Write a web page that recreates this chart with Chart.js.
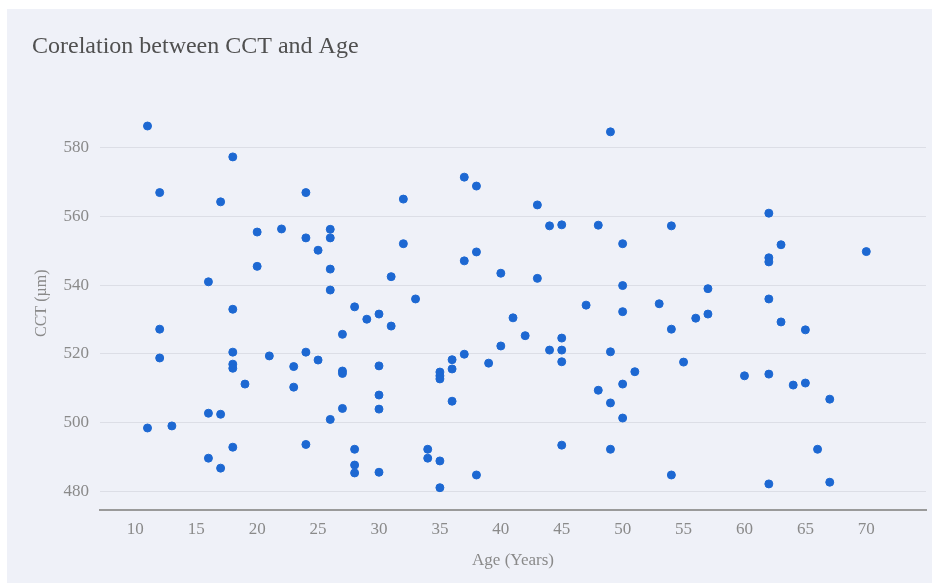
<!DOCTYPE html>
<html>
<head>
<meta charset="utf-8">
<script src="https://cdn.jsdelivr.net/npm/chart.js@4.4.1/dist/chart.umd.min.js"></script>
<style>
  html, body { margin: 0; padding: 0; background: #ffffff; }
  #card {
    position: absolute; left: 7px; top: 9px;
    width: 925px; height: 574px;
    background: #eff1f8;
  }
</style>
</head>
<body>
<div id="card"><canvas id="scatter-chart" width="925" height="574"></canvas></div>
<script>
  'use strict';
  // Age (years) and CCT (µm) per patient
  var ages = [
    11, 11, 12, 12, 12, 13, 16, 16, 16, 17, 17, 17,
    18, 18, 18, 18, 18, 18, 19, 20, 20, 21, 22, 23, 23,
    24, 24, 24, 24, 25, 25, 26, 26, 26, 26, 26,
    27, 27, 27, 27, 28, 28, 28, 28, 29, 30, 30, 30, 30, 30,
    31, 31, 32, 32, 33, 34, 34, 35, 35, 35, 35, 35,
    36, 36, 36, 37, 37, 37, 38, 38, 38, 39, 40, 40, 41, 42,
    43, 43, 44, 44, 45, 45, 45, 45, 45, 47, 48, 48,
    49, 49, 49, 49, 50, 50, 50, 50, 50, 51, 53, 54, 54, 54,
    55, 56, 57, 57, 60, 62, 62, 62, 62, 62, 62, 63, 63,
    64, 65, 65, 66, 67, 67, 70
  ];
  var cct = [
    586.4, 498.4, 567, 527.2, 518.8, 499, 541, 502.7, 489.6, 564.3, 502.4, 486.7,
    577.4, 533, 520.5, 517, 515.8, 492.8, 511.2, 555.5, 545.5, 519.4, 556.4, 516.3, 510.3,
    567, 553.8, 520.5, 493.6, 550.2, 518.2, 556.3, 553.8, 544.7, 538.6, 500.9,
    525.7, 515, 514.3, 504.1, 533.7, 492.2, 487.6, 485.3, 530.1, 531.6, 516.5, 508, 503.9, 485.5,
    542.5, 528.1, 565.1, 552.1, 536, 492.2, 489.6, 514.7, 513.6, 512.7, 488.8, 481,
    518.3, 515.6, 506.2, 571.5, 547.1, 519.9, 568.9, 549.7, 484.7, 517.3, 543.5, 522.3, 530.5, 525.3,
    563.4, 542, 557.3, 521.1, 557.6, 524.6, 521.1, 517.7, 493.4, 534.2, 557.5, 509.4,
    584.7, 520.6, 505.7, 492.2, 552.1, 539.9, 532.3, 511.2, 501.3, 514.8, 534.6, 557.3, 527.2, 484.7,
    517.6, 530.4, 539, 531.6, 513.6, 561, 548, 546.8, 536, 514.1, 482.1, 551.8, 529.3,
    510.9, 527, 511.5, 492.2, 506.8, 482.6, 549.8
  ];
  var xTicks = [10, 15, 20, 25, 30, 35, 40, 45, 50, 55, 60, 65, 70];
  var yTicks = [480, 500, 520, 540, 560, 580];

  var points = ages.map(function(a, i) { return { x: a, y: cct[i] }; });
  var serif = "'Liberation Serif', 'DejaVu Serif', serif";

  new Chart(document.getElementById("scatter-chart"), {
    type: 'scatter',
    data: {
      datasets: [{
        label: "CCT",
        data: points,
        backgroundColor: "#1d68d2",
        borderColor: "#1d68d2",
        borderWidth: 1,
        pointRadius: 4,
        pointHoverRadius: 5
      }]
    },
    options: {
      responsive: false,
      animation: false,
      layout: { padding: { left: 25, right: 6, top: 0, bottom: 0 } },
      plugins: {
        legend: { display: false },
        tooltip: { enabled: false },
        title: {
          display: true,
          text: 'Corelation between CCT and Age',
          align: 'start',
          color: '#505050',
          font: { family: serif, size: 24, weight: 'normal' },
          padding: { top: 23, bottom: 35.7 }
        }
      },
      scales: {
        x: {
          type: 'linear',
          min: 7.1,
          max: 74.9,
          afterBuildTicks: function(axis) {
            axis.ticks = xTicks.map(function(v) { return { value: v }; });
          },
          afterFit: function(axis) { axis.height = 73; },
          grid: { display: false, drawTicks: false },
          border: { display: true, color: '#9a9a9a', width: 2 },
          ticks: { color: '#8a8a8a', padding: 9, font: { family: serif, size: 17 } },
          title: {
            display: true,
            text: 'Age (Years)',
            color: '#8a8a8a',
            font: { family: serif, size: 17 },
            padding: { top: 4, bottom: 12 }
          }
        },
        y: {
          min: 474.5,
          max: 595,
          afterBuildTicks: function(axis) {
            axis.ticks = yTicks.map(function(v) { return { value: v }; });
          },
          afterFit: function(axis) { axis.width = 68; },
          grid: { color: '#dcdee6', lineWidth: 1, drawTicks: false },
          border: { display: false },
          ticks: { color: '#8a8a8a', padding: 11, font: { family: serif, size: 17 } },
          title: {
            display: true,
            text: 'CCT (µm)',
            color: '#8a8a8a',
            font: { family: serif, size: 16 },
            padding: { top: 0, bottom: 0 }
          }
        }
      }
    }
  });
</script>
</body>
</html>
